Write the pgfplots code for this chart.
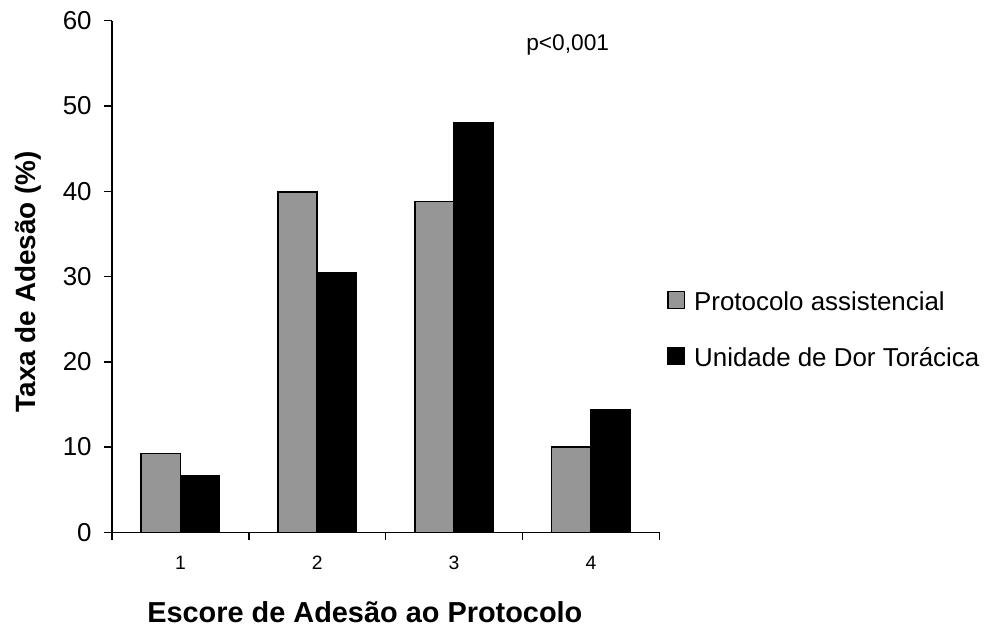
\documentclass[border=0pt]{standalone}
\usepackage{fontspec}
\setmainfont{Liberation Sans}
\usepackage{pgfplots}
\pgfplotsset{compat=1.18}

\definecolor{barGray}{RGB}{150,150,150}

\begin{document}
\begin{tikzpicture}
\begin{axis}[
    scale only axis,
    width=273.65bp, height=255.8bp,
    ybar=0pt,
    bar width=19.65bp,
    xmin=0.5, xmax=4.5,
    ymin=0, ymax=60,
    axis x line=bottom, axis y line=left,
    axis line style={-, line width=0.75bp},
    every tick/.style={black, line width=0.75bp},
    tick align=outside,
    major tick length=4bp,
    xtick={0.5,1.5,2.5,3.5,4.5},
    xticklabels={1,2,3,4},
    x tick label as interval,
    ytick={0,10,20,30,40,50,60},
    /pgf/number format/assume math mode=true,
    yticklabel style={font=\fontsize{13}{15}\selectfont, inner sep=0pt, anchor=east, xshift=-6bp},
    xticklabel style={font=\fontsize{9.7}{11}\selectfont, inner sep=0pt, anchor=north, yshift=-7.6bp},
    xlabel={\bfseries Escore de Adesão ao Protocolo},
    ylabel={\bfseries Taxa de Adesão (\%)},
    xlabel style={font=\fontsize{14.5}{17}\selectfont, at={(axis description cs:0.462,-0.156)}, anchor=center},
    ylabel style={font=\fontsize{14}{17}\selectfont, at={(axis description cs:-0.1535,0.490)}, anchor=center},
    legend cell align=left,
    legend style={at={(axis description cs:1.0141,0.399)}, anchor=west, draw=none, fill=none,
        inner sep=0pt, row sep=18bp, font=\fontsize{13}{15}\selectfont,
        nodes={inner sep=0pt, text height=10bp, text depth=0pt}},
    legend image code/.code={
        \draw[#1, line width=0.6bp] (0.3bp,-4.1bp) rectangle (8.6bp,4.3bp);
        \path (13bp,0bp);
    },
]
\addplot[fill=barGray, draw=black, line width=0.75bp] coordinates {
    (1,9.26) (2,39.9) (3,38.8) (4,10.0)
};
\addlegendentry{Protocolo assistencial}
\addplot[fill=black, draw=black, line width=0.75bp] coordinates {
    (1,6.64) (2,30.4) (3,48.0) (4,14.4)
};
\addlegendentry{Unidade de Dor Torácica}

\node[font=\fontsize{11.4}{13}\selectfont, anchor=center] at (axis description cs:0.8326,0.9525) {p<0,001};

\coordinate (bbBL) at (axis description cs:-0.2046,-0.2047);
\coordinate (bbTR) at (axis description cs:1.6133,1.0405);
\end{axis}
\pgfresetboundingbox
\path[use as bounding box] (bbBL) rectangle (bbTR);
\end{tikzpicture}
\end{document}
